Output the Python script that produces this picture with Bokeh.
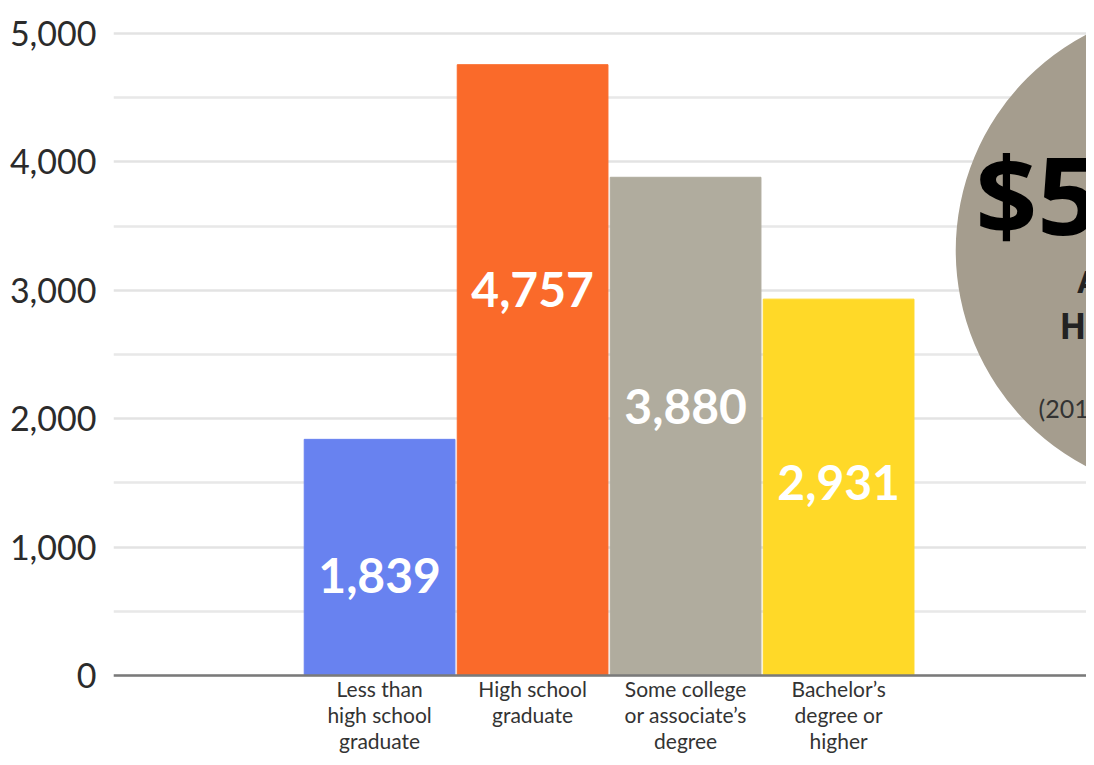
from bokeh.plotting import figure
from bokeh.models import FixedTicker, NumeralTickFormatter, Span, Range1d, ColumnDataSource
from bokeh.core.properties import value
from bokeh.embed import file_html
from bokeh.resources import INLINE

# ---- data ----
categories = ["Less than high school graduate", "High school graduate",
              "Some college or associate's degree", "Bachelor's degree or higher"]
values = [1839, 4757, 3880, 2931]
value_labels = ["1,839", "4,757", "3,880", "2,931"]
colors = ["#6882f0", "#fa6a2a", "#b0ac9e", "#ffd928"]
cat_line1 = ["Less than", "High school", "Some college", "Bachelor\u2019s"]
cat_line2 = ["high school", "graduate", "or associate\u2019s", "degree or"]
cat_line3 = ["graduate", "", "degree", "higher"]
y_ticks = [0, 1000, 2000, 3000, 4000, 5000]
y_minor = [500, 1500, 2500, 3500, 4500]

# ---- layout positions ----
label_y = [779, 3006, 2095, 1503]
xs = list(range(len(values)))

FONT = "Lato"

p = figure(width=1086, height=757, output_backend="svg", toolbar_location=None,
           x_range=Range1d(-1.739, 4.620), y_range=Range1d(-639, 5257),
           min_border_left=113, min_border_right=0, min_border_top=0, min_border_bottom=0)
p.outline_line_color = None
p.background_fill_color = "white"
p.xaxis.visible = False
p.xgrid.visible = False

ticker = FixedTicker(ticks=y_ticks, minor_ticks=y_minor)
yax = p.yaxis[0]
yax.ticker = ticker
yax.formatter = NumeralTickFormatter(format="0,0")
yax.axis_line_color = None
yax.major_tick_line_color = None
yax.minor_tick_line_color = None
yax.major_tick_out = 0
yax.major_label_standoff = 13
yax.major_label_text_font = FONT
yax.major_label_text_font_size = "34px"
yax.major_label_text_color = "#2b2b2b"

p.ygrid.ticker = ticker
p.ygrid.grid_line_color = "#e3e3e3"
p.ygrid.grid_line_width = 2.5
p.ygrid.minor_grid_line_color = "#e8e8e8"
p.ygrid.minor_grid_line_width = 2.5

src = ColumnDataSource(dict(x=xs, top=values, color=colors, lab=value_labels, ly=label_y,
                            l1=cat_line1, l2=cat_line2, l3=cat_line3))

p.vbar(x="x", top="top", bottom=0, width=0.985, color="color", source=src)

p.text(x="x", y="ly", text="lab", source=src, text_color="white",
       text_font=value(FONT), text_font_style="bold", text_font_size="48px",
       text_align="center", text_baseline="alphabetic")

for col, yy in (("l1", -101), ("l2", -304), ("l3", -506)):
    p.text(x="x", y=yy, text=col, source=src, text_color="#333333",
           text_font=value(FONT), text_font_size="21px",
           text_align="center", text_baseline="middle")

p.add_layout(Span(location=0, dimension="width", line_color="#7a7a7a", line_width=2.5))

# income bubble (clipped at right edge)
BFONT = "Open Sans"
p.scatter(x=[5.36], y=[3310], size=488, color="#a59d8e", line_color=None)
p.text(x=[3.895], y=[3754], text=["$5"], text_color="#000000", text_font=value(BFONT),
       text_font_style="bold", text_font_size="108px", text_baseline="alphabetic")
p.text(x=[4.56], y=[3073], text=["A"], text_color="#222222", text_font=value(BFONT),
       text_font_style="bold", text_font_size="31px", text_baseline="alphabetic")
p.text(x=[4.444], y=[2726], text=["HO"], text_color="#222222", text_font=value(BFONT),
       text_font_style="bold", text_font_size="35px", text_baseline="alphabetic")
p.text(x=[4.307], y=[2081], text=["(201"], text_color="#333333", text_font=value(FONT),
       text_font_size="25px", text_baseline="alphabetic")

open("out.html", "w").write(file_html(p, INLINE))
